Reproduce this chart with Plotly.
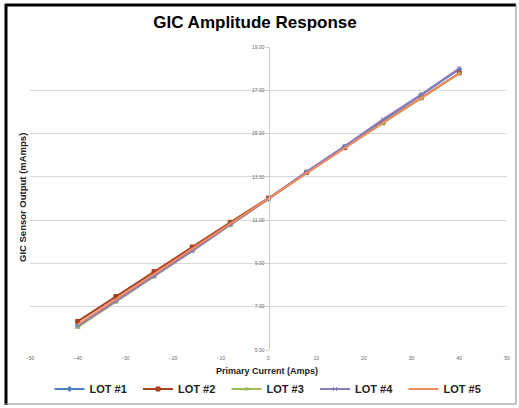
import plotly.graph_objects as go

current = [-40, -32, -24, -16, -8, 0, 8, 16, 24, 32, 40]
lot1 = [6.12, 7.27, 8.43, 9.60, 10.80, 11.98, 13.22, 14.40, 15.60, 16.78, 17.97]
lot2 = [6.32, 7.47, 8.62, 9.76, 10.90, 12.02, 13.20, 14.35, 15.50, 16.65, 17.80]
lot3 = [6.05, 7.22, 8.38, 9.57, 10.78, 11.97, 13.20, 14.37, 15.48, 16.62, 17.78]
lot4 = [6.10, 7.25, 8.40, 9.58, 10.80, 11.98, 13.24, 14.42, 15.66, 16.80, 18.02]
lot5 = [6.18, 7.35, 8.50, 9.66, 10.84, 12.00, 13.20, 14.36, 15.50, 16.65, 17.78]
names = ["LOT #1", "LOT #2", "LOT #3", "LOT #4", "LOT #5"]
series = [lot1, lot2, lot3, lot4, lot5]
colors = ["#4F81BD", "#A8431E", "#9BBB59", "#8C7BBD", "#F08A62"]
symbols = ["diamond", "square", "triangle-up", "x-thin", "circle"]
msizes = [4, 4, 4, 4, 0]

y_ticks = [5, 7, 9, 11, 13, 15, 17, 19]
x_ticks = [-50, -40, -30, -20, -10, 0, 10, 20, 30, 40, 50]

W, H = 519, 408
L, R, T, B = 30, 12, 47, 58
pw, ph = W - L - R, H - T - B

def px(x):
    return (x - L) / pw

def py(y):
    return (H - B - y) / ph

fig = go.Figure()
for name, vals, c, s, ms in zip(names, series, colors, symbols, msizes):
    fig.add_trace(go.Scatter(
        x=current, y=vals, name=name, mode="lines+markers" if ms else "lines",
        line=dict(color=c, width=2),
        marker=dict(symbol=s, size=ms, color=c, line=dict(color=c, width=1)),
    ))

fig.update_layout(
    width=W, height=H,
    margin=dict(l=L, r=R, t=T, b=B, autoexpand=False),
    paper_bgcolor="white", plot_bgcolor="white",
    font=dict(family="Liberation Sans, Arial, sans-serif", color="#000000"),
    title=dict(text="<b>GIC Amplitude Response</b>", x=255 / W, xanchor="center",
               y=1 - 22 / H, yanchor="middle", xref="container", yref="container",
               font=dict(size=17, color="#000000")),
    xaxis=dict(range=[-50, 50], tickvals=x_ticks, showgrid=False, zeroline=False,
               showline=False, ticks="", tickfont=dict(size=5, color="#666666"),
               ticklabelstandoff=4, automargin=False),
    yaxis=dict(range=[5, 19], tickvals=y_ticks, tickformat=".2f",
               showgrid=True, gridcolor="#D9D9D9", gridwidth=1, zeroline=False,
               showline=True, linecolor="#C8C8C8", linewidth=1,
               anchor="free", position=0.5, ticks="outside", ticklen=3,
               tickcolor="#C8C8C8", tickfont=dict(size=5, color="#666666"),
               automargin=False),
    legend=dict(orientation="h", x=271 / W, xanchor="center", xref="container",
                y=1 - 389 / H, yanchor="middle", yref="container",
                font=dict(size=11, color="#222222", weight="bold",
                          family="Liberation Sans, Arial, sans-serif"),
                entrywidth=43.5, itemwidth=30, tracegroupgap=0, bgcolor="rgba(0,0,0,0)"),
    showlegend=True,
    annotations=[
        dict(text="<b>Primary Current (Amps)</b>", x=px(267), y=py(371),
             xref="paper", yref="paper", showarrow=False,
             xanchor="center", yanchor="middle",
             font=dict(size=9, color="#222222")),
        dict(text="<b>GIC Sensor Output (mAmps)</b>", x=px(22), y=py(198),
             xref="paper", yref="paper", showarrow=False, textangle=-90,
             xanchor="center", yanchor="middle",
             font=dict(size=9.5, color="#222222")),
    ],
    shapes=[
        dict(type="line", xref="paper", yref="paper", x0=px(6), x1=px(6), y0=py(4), y1=py(405),
             line=dict(color="black", width=3)),
        dict(type="line", xref="paper", yref="paper", x0=px(5), x1=px(516), y0=py(5), y1=py(5),
             line=dict(color="black", width=3)),
        dict(type="line", xref="paper", yref="paper", x0=px(516), x1=px(516), y0=py(4), y1=py(404),
             line=dict(color="#888888", width=1)),
        dict(type="line", xref="paper", yref="paper", x0=px(5), x1=px(516), y0=py(404), y1=py(404),
             line=dict(color="#888888", width=1)),
    ],
)

fig.write_html("out.html", config={"displayModeBar": False},
               post_script="document.body.style.margin='0px';document.body.style.overflow='hidden';")
